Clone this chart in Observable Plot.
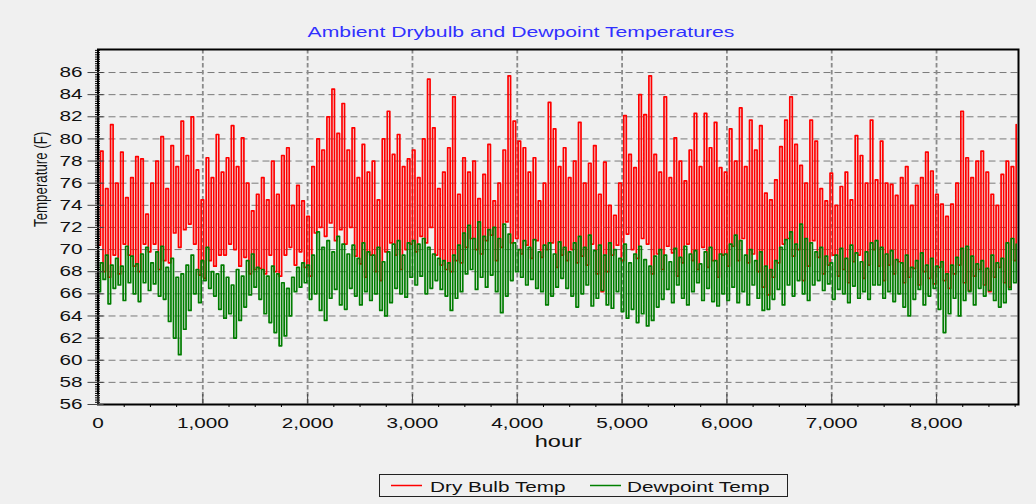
<!DOCTYPE html>
<html>
<head>
<meta charset="utf-8">
<script src="https://cdn.jsdelivr.net/npm/d3@7"></script>
<script src="https://cdn.jsdelivr.net/npm/@observablehq/plot@0.6"></script>
<style>
  html, body { margin: 0; padding: 0; background: #f0f0f0; }
  body { width: 1036px; height: 504px; overflow: hidden; font-family: "Liberation Sans", Arial, sans-serif; }
  #title { position: relative; height: 45px; }
  #title span { position: absolute; left: 521px; top: 23.5px; font-size: 14.5px; line-height: 17px; color: #3030ff; white-space: nowrap; transform: translateX(-50%) scaleX(1.46); }
  #chart svg { display: block; }
  #legend { position: relative; height: 39px; }
  #legend .box { position: absolute; left: 379px; top: 9px; width: 407px; height: 21px; border: 1px solid #222; }
  #legend svg.swatch { position: absolute; top: 18px; width: 31px; height: 5px; overflow: visible; }
  #legend .lab { position: absolute; top: 13.5px; font-size: 14.5px; line-height: 17px; color: #111; white-space: nowrap; transform-origin: 0 50%; transform: scaleX(1.43); }
</style>
</head>
<body>
<div id="title"><span>Ambient Drybulb and Dewpoint Temperatures</span></div>
<div id="chart"></div>
<div id="legend">
  <div class="box"></div>
  <svg class="swatch" style="left:391px" viewBox="0 0 31 5"><line x1="0" y1="2.5" x2="31" y2="2.5" stroke="#ff0000" stroke-width="1.5"/></svg>
  <div class="lab" style="left:430px">Dry Bulb Temp</div>
  <svg class="swatch" style="left:590px" viewBox="0 0 31 5"><line x1="0" y1="2.5" x2="31" y2="2.5" stroke="#008000" stroke-width="1.5"/></svg>
  <div class="lab" style="left:627px">Dewpoint Temp</div>
</div>
<script>
// Axis tick values
const hourTicks = [0, 1000, 2000, 3000, 4000, 5000, 6000, 7000, 8000];
const tempTicks = [56, 58, 60, 62, 64, 66, 68, 70, 72, 74, 76, 78, 80, 82, 84, 86];

// Each entry is one 48-hour period (period k starts at hour 48*k):
// the low level in the first half of the period, the peak level in the second half.
const dryHi = [
  78.9,75.5,81.3,76,78.8,74.7,76.5,78.4,78.2,73.2,76,78,80.2,75.5,79.4,77.5,81.6,78.5,82,77.2,74.5,78.3,76.5,80.4,77,78.3,81.2,77.5,80.1,76,73.5,75,
  76.5,74.5,78,75,78.5,79.2,74,75.8,74.4,73,77.5,80,79,82,84.5,80.5,83.2,79,81,76.5,79.5,77,78,74.5,80,82.5,78.6,80.4,77.5,78.2,
  79,76.5,80,85.4,81,75.5,77,79.2,83.8,75,78.3,77,78,74.6,76.8,79.5,74.4,76,79,85.7,81.6,79.8,79.2,77,78.3,74.4,76,83.3,80.9,77.5,79.2,
  76.5,78,81.5,76,77.8,79.4,75,77.9,74,73.1,76,82.1,78.6,77.4,84,82.2,85.7,78.6,77,83.8,76.5,80.1,78,76.2,79,82.3,77.5,82.3,79.2,81.5,77.4,
  77,80.9,78,82.8,77.5,81.7,79,81.2,75.1,74.5,76.3,79.3,81.7,83.8,79.5,77.6,76,81.7,79.8,75.5,74.4,76.9,74,75.7,77,74.5,80.3,78.5,76,81.7,76.3,
  79.8,76,75.9,74.9,76.5,77.5,74,75.8,76.5,78.8,77.1,75,74.1,73,74.1,76,82.5,78.3,76.5,78,78.9,77,75,74,76.8,78,77.5,81.3
];
const dryLo = [
  70.4,68,67.5,69.5,67.8,70.5,69.5,68.5,68,70.5,69.8,70.5,68.2,69,68.8,71.5,70.2,71.8,72.3,70.5,67.7,67.4,69,68.5,69.5,69.5,70.5,70,68.5,69.3,67.8,68.2,
  68.3,67.8,69.5,68,67.6,69.5,70.2,68.6,69.8,68.4,67.6,71.5,72,71.2,72.4,70.8,71.8,70.5,72,69.4,68.7,67.5,69.5,68,67.2,69.8,70.6,69.5,68.2,70,
  70.5,69.8,71.2,70.6,72,69.5,68.6,68.2,68,69,68.8,70.2,71,70,69.6,70.8,71.3,69,70.2,72.5,70.6,71,69.6,70.4,69.2,70.8,69.3,70,70.6,68.4,69.5,
  69,70,68.8,69.4,68.6,70.5,67.8,66.2,68,69.5,70.4,69,71.4,70,69.2,71,70.5,67.8,69.6,68.2,70.3,69.7,67.6,68.8,70.5,69,68.2,70.2,68.4,69,67.5,
  69.5,68.5,70.3,69,71,68.8,69.6,68,66.6,65.9,67.5,68.8,70.5,71,69.4,70,67.2,68.5,70.8,69.3,67.8,68.6,69.5,67.6,68.2,67,68.9,69.5,67.4,68.6,70,
  68.5,67.2,68.6,67.8,68.9,67,67.5,68.3,66.8,68,67.4,66.9,68.4,67.2,66.5,67.8,68.6,67,66.3,67.6,68.2,66.8,66.2,67.5,68.4,67,66.6,69
];
const dewHi = [
  68.8,69.5,68.6,69.2,68.5,70.3,69.4,68.7,69.6,70.2,68.8,69.8,70.3,68.4,69.2,67.5,67.8,68.6,69.5,68.2,69,70.2,68,67.8,68.6,67.5,66.8,68.2,67.6,69,69.6,68.4,
  68.2,67.6,68.5,67.8,67,66.5,67.5,68.4,68.8,68.6,69.5,71.6,70.2,70.8,69.8,71.2,70.5,69.6,70.4,69.2,70.6,69.8,69.5,70.2,68.9,69.8,70.5,70.8,69.5,70.6,
  70.8,70.5,71,70.2,69.6,69.2,69,68.8,69.5,70.4,71.5,72.2,71,72.5,71.2,71.8,72,71,72.3,71.4,70.6,70,70.8,70.2,70.9,69.8,70.4,70.6,69.6,70.7,70.2,
  69.8,70.6,71.2,70.2,71.3,69.9,70.4,69.5,70.6,70,69.2,70.5,68.8,69.6,70.3,69.1,68.5,69.4,70,69.5,68.9,70.1,69.3,70.3,69.6,69.9,68.7,69.8,70.2,69,69.6,
  69.6,70.5,71.3,70.8,69.5,70,69,69.8,68.5,68.2,69,70.2,70.9,71.6,70.5,72.3,71,70.6,69.8,70.2,69.4,68.8,69.5,70.1,69.2,70.4,69.7,68.9,69.8,70.6,70.8,
  70.2,69.6,69.9,69.1,68.8,69.5,68.4,69,69.7,68.6,69.2,68.5,68.9,67.8,68.6,69.3,70.1,70.3,69.4,68.7,69,68.3,69.5,68.8,69.2,70.6,71,70.5
];
const dewLo = [
  66.2,67.3,65.1,66.5,66.8,65.4,67,66,65.3,67,66.3,66.9,65.8,65.5,63.5,62,60.5,62.8,64.5,66,65.2,67.2,66.5,65.8,64.6,63.8,64.2,62,63.6,64.8,65.9,66.6,
  65.5,64.2,63.4,62.5,61.3,62.2,64,66.2,66.6,67,65.5,66,64.5,63.6,65.6,66.4,65,64.6,66.5,65.8,65,66.2,65.4,66,64.5,64,65.2,66.5,66,65.7,
  67.5,66.8,67.6,66,66.5,67.2,66.4,65.8,64.5,65.6,66.2,67.8,68.2,66.4,67.5,66.6,67.7,66.2,64.3,65.8,67.2,68,67.5,66.8,67.3,66.5,66.2,65,65.8,66.6,67.4,
  66.5,65.8,64.8,66,66.8,64.9,65.6,66.3,65,64.7,66.2,64.4,63.8,64.6,63.4,64.2,63.1,63.6,64.8,65.5,66.4,65.2,66.8,65.6,65,66.2,67,65.4,66.5,65.3,64.9,
  66,65.4,66.6,65.2,66.2,65,66.8,65.6,64.5,64.6,65.5,66.4,65,66.8,65.8,67.2,66,65.4,66.8,67.2,66.3,66.9,65.5,66.4,66,65.2,66.7,65.6,66.2,65.5,66.8,
  66.8,65.6,66.2,65.3,66,64.8,64,65.5,66.4,65,65.8,66.5,64.6,62.5,64.2,65.6,64,65.4,66.2,65,66.5,65.8,66.3,65.4,64.8,65.2,66.4,67
];

const PERIOD_HOURS = 48;
function toPoints(lo, hi) {
  return lo.flatMap((v, k) => [
    {hour: k * PERIOD_HOURS, temp: v},
    {hour: k * PERIOD_HOURS + PERIOD_HOURS / 2, temp: hi[k]}
  ]);
}
const dryPts = toPoints(dryLo, dryHi);
const dewPts = toPoints(dewLo, dewHi);

const minorY = d3.range(56, 88.01, 0.2);
const minorX = d3.range(0, 8782, 250).filter(h => h % 1000 !== 0);
const blank = () => "";

const svg = Plot.plot({
  width: 1036,
  height: 420,
  marginLeft: 97.5,
  marginRight: 18,
  marginTop: 4,
  marginBottom: 61,
  x: {domain: [0, 8782], axis: null},
  y: {domain: [56, 88.08], axis: null},
  style: {background: "transparent", fontFamily: "'Liberation Sans', Arial, sans-serif", fontSize: "14.5px", color: "#111", overflow: "visible"},
  marks: [
    Plot.ruleY(tempTicks, {stroke: "#7a7a7a", strokeWidth: 1, strokeDasharray: "7,4"}),
    Plot.ruleX(hourTicks.slice(1), {stroke: "#8a8a8a", strokeWidth: 1.8, strokeDasharray: "4.5,2.5"}),
    Plot.lineY(dryPts, {x: "hour", y: "temp", stroke: "#ff0000", strokeWidth: 1.7, curve: "step-after"}),
    Plot.lineY(dewPts, {x: "hour", y: "temp", stroke: "#007d00", strokeWidth: 1.7, curve: "step-after"}),
    Plot.frame({stroke: "#000", strokeWidth: 2}),
    Plot.axisY(minorY, {tickSize: 5, dx: 2.5, tickFormat: blank, label: null, stroke: "#000"}),
    Plot.axisY(tempTicks, {tickSize: 16, dx: 6, tickFormat: blank, label: null, stroke: "#444"}),
    Plot.axisY(tempTicks, {tickSize: 0, tickPadding: 15.5, label: null, fill: "#111"}),
    Plot.axisX(minorX, {tickSize: 3, tickFormat: blank, label: null, stroke: "#000"}),
    Plot.axisX(hourTicks, {tickSize: 10, dy: -10, tickFormat: blank, label: null, stroke: "#444"}),
    Plot.axisX(hourTicks, {tickSize: 0, tickPadding: 13, tickFormat: d3.format(","), label: null, fill: "#111"}),
    Plot.text(["hour"], {text: d => d, frameAnchor: "bottom", dy: 42, fontSize: 16.5, fill: "#111"}),
    Plot.text(["Temperature (F)"], {text: d => d, frameAnchor: "left", rotate: -90, dx: -57.5, fontSize: 13.3, fill: "#111"})
  ]
});
document.getElementById("chart").appendChild(svg);

// The reference chart's lettering is horizontally stretched: widen every label about its anchor.
for (const t of svg.querySelectorAll("text")) {
  if (!t.textContent) continue;
  const tr = t.getAttribute("transform");
  if (tr) {
    t.setAttribute("transform", tr + (tr.includes("rotate") ? " scale(1,1.43)" : " scale(1.43,1)"));
  } else {
    const x = +t.getAttribute("x") || 0, y = +t.getAttribute("y") || 0;
    t.setAttribute("transform", `translate(${x},${y}) scale(1.43,1) translate(${-x},${-y})`);
  }
}
</script>
</body>
</html>
